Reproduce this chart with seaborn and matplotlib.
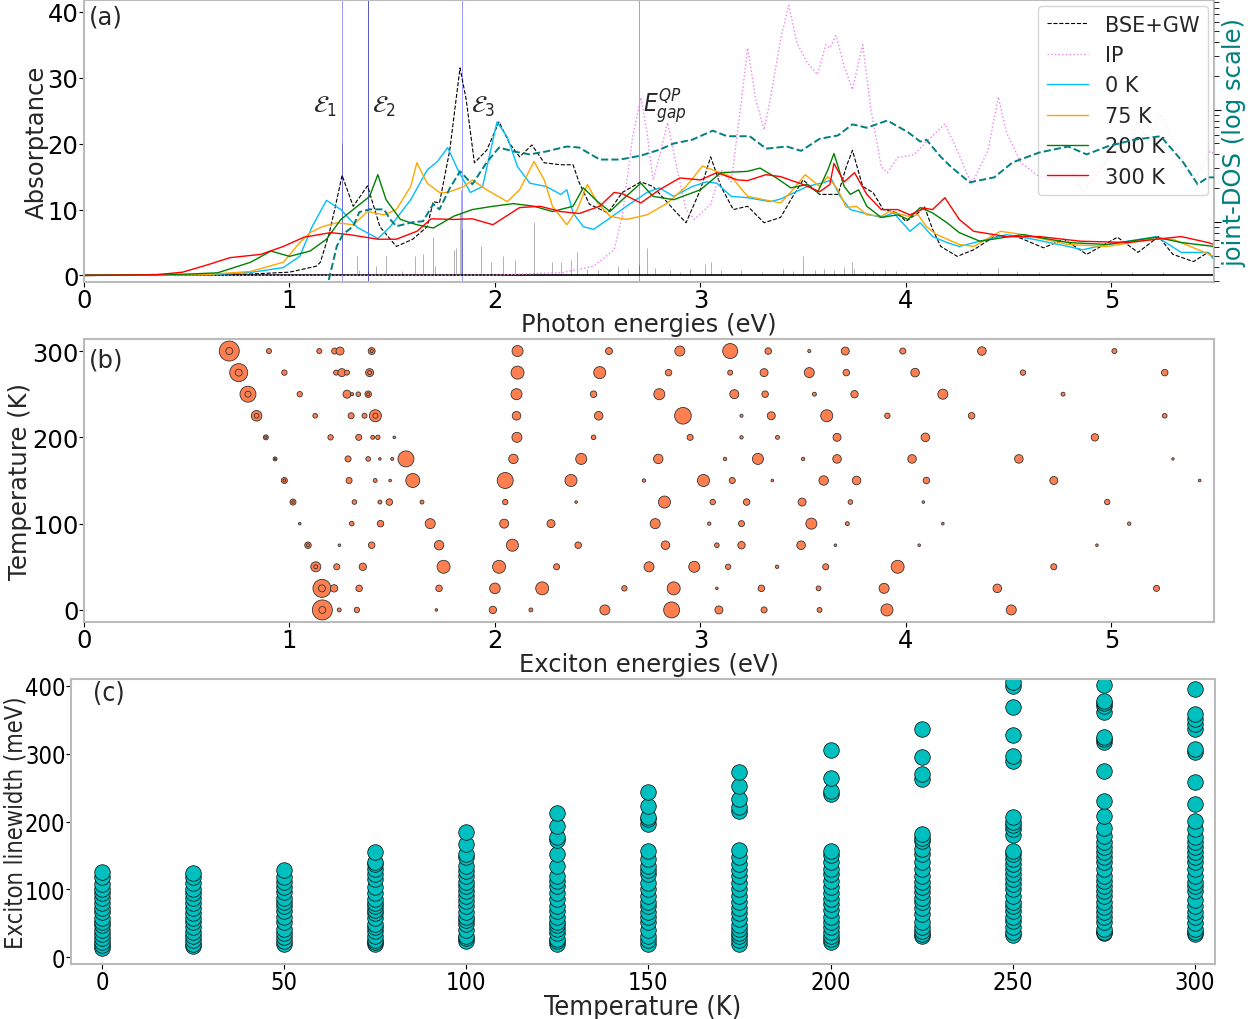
import numpy as np
import pandas as pd
import matplotlib
matplotlib.use("Agg")
import matplotlib.pyplot as plt
from matplotlib.ticker import NullFormatter
import seaborn as sns

# ---------------- panel (a): absorptance spectra ----------------
bse_e = [0.0, 0.6, 0.8, 1.0, 1.13, 1.15, 1.19, 1.22, 1.256, 1.31, 1.38, 1.44, 1.52, 1.60, 1.67,
         1.70, 1.73, 1.78, 1.83, 1.86, 1.90, 1.96, 2.02, 2.07, 2.12, 2.18, 2.24, 2.32, 2.38,
         2.41, 2.46, 2.55, 2.62, 2.71, 2.77, 2.87, 2.93, 3.00, 3.05, 3.10, 3.16, 3.23, 3.31,
         3.39, 3.45, 3.50, 3.58, 3.67, 3.71, 3.74, 3.79, 3.84, 3.89, 3.96, 4.00, 4.06, 4.09,
         4.13, 4.17, 4.25, 4.33, 4.43, 4.54, 4.67, 4.77, 4.88, 5.03, 5.13, 5.23, 5.30, 5.40,
         5.47, 5.50]
bse_abs = [0.0, 0.05, 0.2, 0.5, 1.4, 2.0, 6.0, 10.0, 15.2, 10.5, 13.6, 7.4, 4.4, 5.5, 7.4,
           11.2, 11.0, 19.0, 31.5, 26.7, 17.1, 19.0, 23.3, 20.1, 18.0, 19.8, 17.1, 16.8, 16.8,
           14.1, 10.8, 9.5, 12.6, 14.2, 13.5, 10.0, 8.0, 13.0, 18.0, 13.5, 10.0, 10.5, 8.0,
           8.8, 12.0, 14.5, 12.3, 12.3, 16.5, 19.0, 13.5, 12.6, 10.0, 9.5, 8.2, 9.5, 10.5,
           7.0, 4.4, 2.9, 3.9, 5.9, 5.9, 4.2, 5.5, 3.2, 5.8, 3.5, 5.9, 3.2, 2.1,
           3.5, 2.8]

ip_e = [0.0, 2.0, 2.33, 2.48, 2.58, 2.62, 2.67, 2.71, 2.74, 2.77, 2.80, 2.84, 2.89, 2.93,
        2.97, 3.05, 3.10, 3.15, 3.19, 3.23, 3.27, 3.31, 3.34, 3.39, 3.43, 3.47, 3.52, 3.57,
        3.61, 3.63, 3.66, 3.70, 3.74, 3.79, 3.83, 3.88, 3.91, 3.96, 4.04, 4.10, 4.19, 4.25,
        4.32, 4.40, 4.45, 4.49, 4.56, 4.65, 4.77, 4.82, 4.86, 4.91, 5.01, 5.08, 5.13, 5.18,
        5.24, 5.32, 5.40, 5.48, 5.50]
ip_abs = [0.0, 0.05, 0.45, 1.4, 3.9, 9.0, 21.0, 27.0, 21.7, 14.5, 18.0, 23.2, 15.6, 10.0,
          8.5, 10.8, 16.0, 14.2, 24.1, 34.5, 26.7, 22.1, 26.7, 35.8, 41.0, 35.3, 32.3, 30.5,
          35.0, 34.5, 36.4, 31.7, 28.2, 35.0, 25.2, 16.5, 15.6, 17.9, 18.3, 20.3, 23.0, 19.0,
          13.8, 19.0, 27.1, 21.7, 17.1, 15.0, 14.8, 15.6, 12.7, 14.5, 19.0, 19.0, 23.2, 20.5,
          24.4, 19.5, 14.2, 18.8, 18.5]

t0_e = [0.0, 0.6, 0.81, 0.97, 1.05, 1.11, 1.18, 1.25, 1.33, 1.43, 1.49, 1.59, 1.67, 1.72,
        1.77, 1.82, 1.88, 1.94, 2.01, 2.06, 2.11, 2.17, 2.25, 2.32, 2.35, 2.38, 2.43, 2.48,
        2.55, 2.64, 2.74, 2.80, 2.87, 2.96, 3.03, 3.08, 3.15, 3.23, 3.34, 3.39, 3.52, 3.60,
        3.64, 3.68, 3.73, 3.79, 3.88, 3.94, 4.02, 4.07, 4.13, 4.20, 4.26, 4.36, 4.49, 4.62,
        4.79, 4.86, 4.98, 5.10, 5.22, 5.34, 5.47, 5.50]
t0_abs = [0.0, 0.1, 0.45, 1.2, 2.9, 7.4, 11.4, 10.0, 7.3, 5.6, 7.4, 11.5, 16.0, 17.3,
          19.4, 16.0, 12.6, 13.5, 23.3, 21.0, 16.5, 14.0, 13.5, 12.3, 13.0, 9.5, 7.4, 7.0,
          8.5, 10.5, 12.6, 13.3, 12.0, 13.5, 14.2, 14.0, 12.0, 11.8, 11.2, 11.6, 13.5, 14.1,
          14.5, 12.0, 10.0, 9.5, 8.8, 9.5, 6.7, 8.0, 5.9, 5.0, 4.4, 5.2, 6.2, 5.5,
          4.4, 3.9, 4.7, 5.3, 5.9, 3.5, 3.5, 2.4]

t75_e = [0.0, 0.6, 0.81, 0.97, 1.05, 1.10, 1.16, 1.23, 1.31, 1.38, 1.46, 1.52, 1.59, 1.62,
         1.67, 1.73, 1.77, 1.85, 1.89, 1.96, 2.06, 2.12, 2.19, 2.24, 2.28, 2.35, 2.40, 2.45,
         2.50, 2.56, 2.64, 2.74, 2.84, 2.93, 3.01, 3.08, 3.15, 3.23, 3.31, 3.39, 3.45, 3.51,
         3.58, 3.62, 3.67, 3.71, 3.76, 3.81, 3.88, 3.92, 4.01, 4.06, 4.10, 4.15, 4.26, 4.33,
         4.46, 4.57, 4.79, 4.98, 5.20, 5.30, 5.40, 5.50]
t75_abs = [0.0, 0.15, 0.6, 2.0, 5.0, 6.5, 7.4, 8.0, 7.7, 9.7, 9.2, 10.0, 13.5, 17.1,
           14.0, 12.6, 12.6, 13.5, 14.5, 13.0, 11.2, 13.0, 17.3, 14.5, 10.5, 7.7, 10.0, 13.8,
           11.0, 9.0, 8.5, 9.2, 11.0, 13.5, 16.6, 15.8, 15.0, 12.0, 11.5, 11.0, 13.0, 15.3,
           13.5, 15.0, 13.0, 10.3, 10.5, 9.2, 9.0, 9.7, 9.0, 9.2, 7.4, 6.2, 4.7, 4.4,
           6.7, 6.2, 4.7, 4.4, 5.5, 5.5, 4.2, 2.9]

t200_e = [0.0, 0.5, 0.65, 0.81, 0.91, 1.0, 1.10, 1.18, 1.25, 1.33, 1.39, 1.43, 1.47, 1.54,
          1.62, 1.70, 1.80, 1.89, 1.99, 2.09, 2.19, 2.28, 2.38, 2.43, 2.50, 2.56, 2.62, 2.71,
          2.77, 2.87, 3.00, 3.10, 3.23, 3.29, 3.37, 3.44, 3.52, 3.57, 3.62, 3.65, 3.70, 3.73,
          3.77, 3.81, 3.88, 3.96, 4.01, 4.07, 4.13, 4.20, 4.26, 4.36, 4.57, 4.79, 4.98, 5.22,
          5.34, 5.50]
t200_abs = [0.0, 0.2, 0.4, 2.0, 3.7, 2.9, 3.7, 5.5, 8.5, 10.5, 12.0, 15.3, 11.5, 8.5,
            7.7, 7.2, 9.0, 10.0, 10.5, 10.9, 10.5, 9.7, 10.5, 13.3, 11.2, 9.7, 11.5, 14.0,
            12.0, 11.5, 13.0, 15.6, 15.8, 16.3, 14.8, 13.3, 13.8, 12.6, 16.0, 18.5, 13.5, 12.3,
            13.0, 10.5, 8.8, 9.2, 8.5, 10.3, 9.5, 8.0, 6.5, 5.2, 6.2, 5.0, 4.7, 5.8,
            5.0, 4.4]

t300_e = [0.0, 0.35, 0.48, 0.61, 0.71, 0.86, 0.97, 1.07, 1.20, 1.29, 1.43, 1.52, 1.62, 1.69,
          1.80, 1.89, 1.99, 2.12, 2.22, 2.32, 2.41, 2.51, 2.58, 2.62, 2.71, 2.80, 2.90, 3.00,
          3.08, 3.18, 3.23, 3.32, 3.39, 3.50, 3.58, 3.63, 3.65, 3.70, 3.75, 3.81, 3.88, 3.96,
          4.02, 4.09, 4.13, 4.19, 4.26, 4.33, 4.49, 4.65, 4.85, 5.08, 5.22, 5.34, 5.47, 5.50]
t300_abs = [0.0, 0.1, 0.5, 1.7, 2.7, 3.2, 4.4, 5.8, 6.5, 6.2, 5.5, 5.5, 6.7, 8.6,
            8.5, 8.6, 7.7, 10.3, 10.5, 9.7, 9.4, 10.5, 12.6, 12.4, 11.0, 13.0, 14.8, 14.5,
            15.6, 14.5, 14.4, 15.3, 15.0, 13.8, 12.7, 13.8, 17.0, 14.2, 15.6, 12.3, 10.0, 10.0,
            9.2, 10.2, 10.0, 11.8, 8.5, 6.7, 5.9, 5.9, 5.2, 5.0, 5.5, 5.9, 5.0, 4.7]

# joint density of states (arbitrary units, log axis)
jdos_e = [1.18, 1.19, 1.23, 1.26, 1.31, 1.34, 1.39, 1.46, 1.49, 1.52, 1.60, 1.65, 1.70, 1.73,
          1.78, 1.83, 1.89, 1.96, 2.02, 2.09, 2.17, 2.25, 2.35, 2.41, 2.51, 2.61, 2.71, 2.80,
          2.87, 2.96, 3.06, 3.13, 3.24, 3.32, 3.42, 3.49, 3.58, 3.67, 3.74, 3.81, 3.91, 4.01,
          4.07, 4.10, 4.17, 4.22, 4.31, 4.43, 4.52, 4.65, 4.79, 4.88, 4.98, 5.11, 5.24, 5.35,
          5.42, 5.47, 5.50]
jdos_val = [2.5, 3.0, 6.1, 7.8, 9.2, 12.3, 13.0, 13.0, 10.6, 9.2, 10.0, 10.2, 14.5, 13.0,
            20.0, 28.3, 21.7, 34.0, 46.0, 42.5, 40.0, 42.5, 47.0, 46.0, 36.0, 36.0, 39.0, 44.0,
            50.0, 54.0, 65.0, 58.0, 58.0, 45.0, 47.0, 43.0, 55.0, 59.0, 74.0, 69.0, 80.0, 63.0,
            52.0, 54.0, 38.0, 31.0, 22.6, 25.0, 34.0, 41.6, 47.0, 40.0, 47.0, 54.0, 58.0, 34.0,
            21.7, 25.0, 25.0]

# oscillator strengths (sticks)
stick_e = [1.256, 1.33, 1.34, 1.38, 1.42, 1.47, 1.55, 1.61, 1.65, 1.70, 1.71, 1.80, 1.81,
           1.83, 1.835, 1.84, 1.93, 1.98, 2.04, 2.10, 2.19, 2.28, 2.32, 2.37, 2.40, 2.45,
           2.50, 2.55, 2.60, 2.65, 2.70, 2.74, 2.78, 2.85, 2.90, 2.95, 3.02, 3.05, 3.10,
           3.20, 3.30, 3.40, 3.45, 3.50, 3.56, 3.60, 3.65, 3.70, 3.74, 3.75, 3.80, 3.84,
           3.90, 3.95, 4.00, 4.09, 4.15, 4.25, 4.30, 4.36, 4.45, 4.54, 4.65, 4.80, 4.95,
           5.10, 5.25]
stick_h = [20.1, 3.0, 0.8, 0.7, 1.4, 3.0, 0.7, 3.0, 3.2, 5.9, 1.5, 3.9, 4.2,
           9.5, 13.0, 7.0, 4.4, 2.1, 2.9, 2.4, 8.1, 2.0, 2.1, 2.4, 3.5, 1.0,
           0.8, 0.6, 1.4, 1.0, 1.6, 4.2, 1.2, 0.8, 0.6, 1.0, 1.7, 2.0, 0.8,
           0.9, 0.6, 1.0, 0.7, 2.9, 0.8, 1.0, 0.8, 1.3, 2.0, 1.0, 0.6, 0.7,
           0.8, 0.7, 0.6, 0.6, 0.5, 0.6, 0.5, 0.6, 1.2, 0.7, 0.6, 0.4, 0.5,
           0.5, 0.5]

exciton_lines = [1.256, 1.38, 1.84, 2.70]

# ---------------- panel (b): exciton energies vs temperature ----------------
temps_b = [300, 275, 250, 225, 200, 175, 150, 125, 100, 75, 50, 25, 0]
e_300 = [0.707, 0.90, 1.145, 1.22, 1.246, 1.40, 2.11, 2.555, 2.90, 3.145, 3.33, 3.53, 3.705, 3.985, 4.37, 5.015]
s_300 = [207, 13, 13, 19, 33, 25, 63, 25, 52, 116, 22, 5, 33, 19, 38, 13]
e_275 = [0.753, 0.975, 1.227, 1.255, 1.28, 1.39, 2.11, 2.51, 2.845, 3.145, 3.31, 3.53, 3.71, 4.045, 4.57, 5.26]
s_275 = [168, 15, 13, 33, 13, 33, 87, 75, 22, 13, 33, 52, 22, 38, 15, 22]
e_250 = [0.798, 1.05, 1.28, 1.305, 1.335, 1.383, 2.105, 2.48, 2.80, 3.165, 3.315, 3.555, 3.75, 4.18, 4.765]
s_250 = [132, 15, 33, 5, 11, 22, 63, 22, 63, 42, 22, 8, 28, 52, 8]
e_225 = [0.84, 1.125, 1.30, 1.365, 1.418, 2.105, 2.505, 2.915, 3.20, 3.345, 3.615, 3.91, 4.32, 5.26]
s_225 = [58, 11, 19, 13, 75, 38, 38, 143, 5, 33, 75, 15, 22, 11]
e_200 = [0.885, 1.20, 1.337, 1.405, 1.43, 1.51, 2.107, 2.48, 2.95, 3.20, 3.375, 3.665, 4.095, 4.92]
s_200 = [13, 15, 19, 8, 10, 3.5, 52, 11, 19, 6, 8, 33, 38, 28]
e_175 = [0.93, 1.285, 1.383, 1.44, 1.50, 1.567, 2.09, 2.42, 2.795, 3.12, 3.28, 3.50, 3.665, 4.03, 4.55, 5.30]
s_175 = [8, 19, 11, 3.5, 4.7, 132, 46, 63, 46, 6, 63, 6, 38, 38, 38, 3]
e_150 = [0.975, 1.29, 1.417, 1.49, 1.60, 2.05, 2.37, 2.725, 3.015, 3.155, 3.35, 3.60, 3.76, 4.10, 4.72, 5.43]
s_150 = [19, 19, 8, 3.5, 101, 132, 75, 6, 75, 19, 3.5, 46, 38, 22, 33, 3.5]
e_125 = [1.017, 1.316, 1.44, 1.486, 1.645, 2.05, 2.395, 2.825, 3.06, 3.225, 3.495, 3.73, 4.085, 4.98]
s_125 = [19, 11, 8, 22, 8, 15, 3.5, 75, 15, 22, 33, 11, 3.5, 15]
e_100 = [1.05, 1.303, 1.443, 1.685, 2.045, 2.273, 2.78, 3.043, 3.20, 3.54, 3.715, 4.18, 5.087]
s_100 = [3.5, 11, 22, 52, 42, 33, 52, 6, 19, 63, 8, 3.5, 6]
e_075 = [1.09, 1.243, 1.40, 1.728, 2.085, 2.405, 2.83, 3.08, 3.20, 3.49, 3.657, 4.065, 4.93]
s_075 = [22, 3.5, 22, 46, 75, 22, 38, 11, 28, 38, 3.5, 3.5, 3.5]
e_050 = [1.128, 1.23, 1.357, 1.75, 2.02, 2.30, 2.75, 2.97, 3.135, 3.373, 3.61, 3.96, 4.72]
s_050 = [52, 19, 28, 87, 87, 19, 52, 63, 15, 6, 19, 87, 19]
e_025 = [1.158, 1.217, 1.339, 1.728, 2.0, 2.23, 2.63, 2.87, 3.08, 3.297, 3.575, 3.894, 4.445, 5.22]
s_025 = [168, 28, 22, 22, 58, 87, 15, 87, 3.5, 22, 12, 52, 38, 19]
e_000 = [1.16, 1.242, 1.328, 1.715, 1.99, 2.175, 2.535, 2.86, 3.09, 3.31, 3.58, 3.908, 4.513]
s_000 = [207, 8, 15, 3.5, 28, 8, 52, 132, 33, 19, 12, 75, 52]

# weaker degenerate excitons drawn on top of the strong ones (inner rings)
ring_T = [300, 300, 275, 275, 250, 250, 225, 225, 200, 175, 150, 125, 75, 50, 25, 0]
ring_e = [0.707, 1.40, 0.753, 1.39, 0.798, 1.383, 0.84, 1.418, 0.885, 0.93, 0.975, 1.017, 1.09, 1.128, 1.158, 1.16]
ring_s = [25, 5, 25, 8, 19, 5, 11, 13, 3, 2, 3.5, 3.5, 4.7, 8, 25, 25]

# ---------------- panel (c): exciton linewidths ----------------
temps_c = [0, 25, 50, 75, 100, 125, 150, 175, 200, 225, 250, 275, 300]
lw_000 = [13, 18, 22, 28, 34, 40, 47, 52, 58, 66, 72, 80, 87, 95, 100, 108, 118, 125]
lw_025 = [16, 20, 25, 32, 37, 45, 52, 58, 65, 72, 80, 88, 95, 100, 110, 118, 124]
lw_050 = [19, 24, 30, 36, 42, 52, 60, 68, 75, 82, 88, 96, 104, 111, 118, 128]
lw_075 = [20, 22, 26, 31, 38, 45, 49, 58, 65, 70, 75, 80, 86, 95, 103, 115, 122, 130, 137, 140, 155]
lw_100 = [24, 28, 31, 40, 49, 55, 59, 66, 75, 83, 90, 98, 105, 111, 120, 127, 135, 148, 152, 167, 184]
lw_125 = [19, 24, 27, 35, 42, 48, 52, 60, 68, 75, 86, 95, 105, 112, 120, 135, 152, 173, 177, 194, 213]
lw_150 = [19, 25, 31, 40, 52, 59, 67, 75, 82, 90, 100, 110, 122, 128, 135, 145, 157, 196, 203, 206, 223, 244]
lw_175 = [19, 25, 31, 36, 41, 48, 56, 65, 73, 81, 90, 100, 110, 120, 128, 137, 148, 158, 216, 221, 233, 253, 273]
lw_200 = [22, 27, 32, 37, 45, 52, 59, 70, 78, 86, 95, 103, 112, 122, 130, 140, 150, 157, 240, 245, 264, 306]
lw_225 = [31, 34, 38, 44, 52, 63, 72, 81, 88, 96, 104, 111, 120, 130, 140, 152, 160, 171, 175, 182, 263, 270, 295, 337]
lw_250 = [33, 37, 45, 53, 60, 68, 75, 81, 90, 100, 108, 115, 122, 130, 138, 145, 152, 157, 180, 189, 195, 199, 206,
          289, 297, 328, 369, 399, 406]
lw_275 = [35, 37, 41, 52, 59, 66, 74, 81, 90, 98, 105, 113, 120, 130, 140, 148, 155, 163, 170, 179, 190, 208, 230,
          275, 317, 322, 325, 362, 370, 375, 378, 401]
lw_300 = [34, 37, 41, 50, 59, 67, 75, 85, 98, 105, 111, 120, 130, 140, 148, 155, 162, 170, 177, 189, 201, 226, 258,
          302, 307, 337, 344, 351, 359, 396]

# ---------------- style ----------------
FS = 17.5
sns.set_style("white")
plt.rcParams.update({
    "font.family": ["DejaVu Sans"],
    "axes.edgecolor": "#bbbbbb",
    "axes.linewidth": 1.5,
    "xtick.bottom": True,
    "ytick.left": True,
    "xtick.direction": "out",
    "ytick.direction": "out",
    "xtick.color": "black",
    "ytick.color": "black",
    "xtick.major.size": 3.5,
    "ytick.major.size": 3.5,
    "xtick.major.pad": 0.5,
    "ytick.major.pad": 0.5,
    "xtick.labelsize": FS,
    "ytick.labelsize": FS,
    "axes.labelsize": FS,
})

fig = plt.figure(figsize=(12.56, 10.2), dpi=100)

# ---- (a)
ax = fig.add_axes([0.0669, 0.7225, 0.8997, 0.2765])
ax.vlines(stick_e, 0, stick_h, color="gray", lw=0.7, alpha=0.6)
for xl in exciton_lines:
    ax.axvline(xl, color="blue", lw=0.6, alpha=0.45)
ax.axvline(exciton_lines[1], color="navy", lw=0.6, alpha=0.5)
ax.axhline(0, color="black", lw=1.2)

sns.lineplot(x=bse_e, y=bse_abs, ax=ax, color="black", linestyle="--", lw=0.8,
             label="BSE+GW", estimator=None, sort=False)
sns.lineplot(x=ip_e, y=ip_abs, ax=ax, color="violet", linestyle=":", lw=1.0,
             label="IP", estimator=None, sort=False)
spectra = [(t0_e, t0_abs, "deepskyblue", "0 K"),
           (t75_e, t75_abs, "orange", "75 K"),
           (t200_e, t200_abs, "green", "200 K"),
           (t300_e, t300_abs, "red", "300 K")]
for xs, ys, col, lab in spectra:
    sns.lineplot(x=xs, y=ys, ax=ax, color=col, lw=1.0, label=lab,
                 estimator=None, sort=False)

ax.text(1.23, 25.8, r"$\mathcal{E}_1$", fontsize=FS, ha="right", va="center")
ax.text(1.40, 25.8, r"$\mathcal{E}_2$", fontsize=FS, ha="left", va="center")
ax.text(1.885, 25.8, r"$\mathcal{E}_3$", fontsize=FS, ha="left", va="center")
ax.text(2.72, 25.8, r"$E_{gap}^{QP}$", fontsize=FS, ha="left", va="center")
ax.text(0.004, 0.94, "(a)", transform=ax.transAxes, fontsize=FS, va="center")

ax.set_xlim(0, 5.5)
ax.set_ylim(-1, 41.8)
ax.set_xticks([0, 1, 2, 3, 4, 5])
ax.set_yticks([0, 10, 20, 30, 40])
ax.set_xlabel("Photon energies (eV)", labelpad=0)
ax.set_ylabel("Absorptance")
ax.yaxis.set_label_coords(-0.031, 0.5)
ax.legend(loc="upper right", fontsize=15, frameon=True, edgecolor="#cccccc",
          borderaxespad=0.3)

ax2 = ax.twinx()
sns.lineplot(x=jdos_e, y=jdos_val, ax=ax2, color="teal", linestyle="--", lw=1.4,
             estimator=None, sort=False, legend=False)
ax2.set_yscale("log")
ax2.set_ylim(2.94, 940)
ax2.yaxis.set_major_formatter(NullFormatter())
ax2.yaxis.set_minor_formatter(NullFormatter())
ax2.tick_params(axis="y", which="both", right=True, direction="out", colors="black")
ax2.tick_params(axis="y", which="major", length=5)
ax2.tick_params(axis="y", which="minor", length=3.5)
ax2.set_ylabel("joint-DOS (log scale)", color="teal", fontsize=FS, labelpad=-1)
for sp in ax2.spines.values():
    sp.set_visible(False)

# ---- (b)
rows = []
e_rows = [e_300, e_275, e_250, e_225, e_200, e_175, e_150, e_125, e_100, e_075, e_050, e_025, e_000]
s_rows = [s_300, s_275, s_250, s_225, s_200, s_175, s_150, s_125, s_100, s_075, s_050, s_025, s_000]
for t, es, ss in zip(temps_b, e_rows, s_rows):
    for e, s in zip(es, ss):
        rows.append({"T": t, "E": e, "S": s})
df_b = pd.DataFrame(rows)
df_ring = pd.DataFrame({"T": ring_T, "E": ring_e, "S": ring_s})

axb = fig.add_axes([0.0669, 0.3892, 0.8997, 0.2775])
smin, smax = 2, 207
sns.scatterplot(data=df_b, x="E", y="T", size="S", sizes=(smin, smax), size_norm=(smin, smax),
                color="coral", edgecolor="#333333", linewidth=0.6, legend=False, ax=axb)
sns.scatterplot(data=df_ring, x="E", y="T", size="S", sizes=(smin, smax), size_norm=(smin, smax),
                color="coral", edgecolor="#333333", linewidth=0.6, legend=False, ax=axb)
axb.set_xlim(0, 5.5)
axb.set_ylim(-14, 314)
axb.set_xticks([0, 1, 2, 3, 4, 5])
axb.set_yticks([0, 100, 200, 300])
axb.set_xlabel("Exciton energies (eV)", labelpad=0)
axb.set_ylabel("Temperature (K)")
axb.yaxis.set_label_coords(-0.046, 0.5)
axb.text(0.004, 0.926, "(b)", transform=axb.transAxes, fontsize=FS, va="center")

# ---- (c)  (condensed lettering, as in the original)
lw_rows = [lw_000, lw_025, lw_050, lw_075, lw_100, lw_125, lw_150, lw_175, lw_200,
           lw_225, lw_250, lw_275, lw_300]
rows = []
for t, vals in zip(temps_c, lw_rows):
    for v in vals:
        rows.append({"T": t, "W": v})
df_c = pd.DataFrame(rows)

with plt.rc_context({"font.stretch": "condensed"}):
    axc = fig.add_axes([0.0565, 0.0539, 0.9108, 0.2794])
    sns.scatterplot(data=df_c, x="T", y="W", color="c", edgecolor="black", linewidth=0.5,
                    s=125, ax=axc)
    axc.set_xlim(-8.5, 305.5)
    axc.set_ylim(-10, 410)
    axc.set_xticks([0, 50, 100, 150, 200, 250, 300])
    axc.set_yticks([0, 100, 200, 300, 400])
    axc.tick_params(axis="both", labelsize=17)
    for lab in axc.get_xticklabels() + axc.get_yticklabels():
        lab.set_fontstretch("condensed")
    axc.set_xlabel("Temperature (K)", labelpad=0, fontsize=19.5, fontstretch="condensed")
    axc.set_ylabel("Exciton linewidth (meV)", fontsize=17, fontstretch="condensed")
    axc.yaxis.set_label_coords(-0.038, 0.5)
    axc.text(0.019, 0.95, "(c)", transform=axc.transAxes, fontsize=19, va="center",
             fontstretch="condensed")
    fig.savefig("out.png", dpi=100)
